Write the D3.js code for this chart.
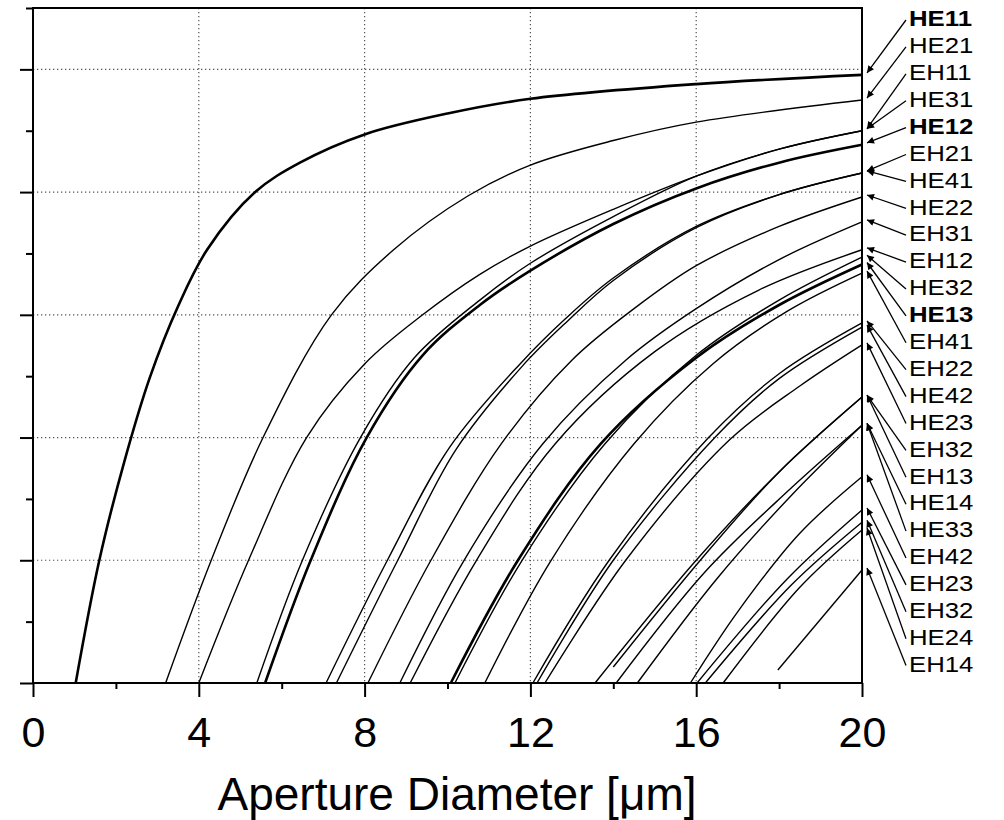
<!DOCTYPE html>
<html>
<head>
<meta charset="utf-8">
<script src="https://cdn.jsdelivr.net/npm/d3@7"></script>
<style>
  body { margin: 0; background: #fff; }
  text { font-family: "Liberation Sans", Arial, sans-serif; }
</style>
</head>
<body>
<script>
// axis ticks
const xTicks = [0, 4, 8, 12, 16, 20];
const xMinorTicks = [2, 6, 10, 14, 18];
const yTicks = [0, 1, 2, 3, 4, 5];
const yMinorTicks = [0.5, 1.5, 2.5, 3.5, 4.5, 5.5];

// mode curves, [aperture diameter, value]
const HE11 = [[1.03,0],[1.6,1],[2.2,1.8],[2.82,2.49],[3.5,3.07],[4.2,3.53],[5.36,4.0],[6.44,4.24],[8,4.47],[10,4.64],[12,4.76],[16,4.88],[20,4.955]];
const HE21 = [[3.2,0],[4.3,1],[5.55,2],[7.2,3],[8.7,3.53],[10.5,3.97],[12,4.22],[14,4.42],[16,4.57],[20,4.75]];
const EH11 = [[4.0,0],[5.2,1],[6.6,2],[8,2.6],[9.4,3],[10.78,3.33],[12,3.56],[14,3.86],[16,4.13],[18,4.35],[20,4.5]];
const HE31 = [[5.4,0],[6.5,1],[7.9,2],[9.2,2.65],[10.78,3.12],[12,3.42],[14,3.8],[16,4.13],[18,4.35],[20,4.5]];
const HE12 = [[5.6,0],[6.7,1],[8.05,2],[9.4,2.67],[10.78,3.08],[12,3.36],[14,3.74],[16,4.03],[18,4.24],[20,4.385]];
const EH21 = [[7.07,0],[8.55,1],[10.05,1.92],[11.75,2.6],[12.85,2.97],[14,3.3],[16,3.72],[18,3.98],[20,4.156]];
const HE41 = [[7.32,0],[8.8,1],[10.2,1.9],[11.8,2.58],[12.9,2.95],[14,3.28],[16,3.71],[18,3.98],[20,4.156]];
const HE22 = [[8.08,0],[9.6,1],[11.3,1.95],[13.0,2.63],[14.5,3.05],[16,3.4],[18,3.72],[20,3.96]];
const EH31 = [[8.85,0],[10.4,1],[12.3,1.95],[14.3,2.63],[16,3.05],[18,3.45],[20,3.757]];
const EH12 = [[9.1,0],[10.7,1],[12.6,1.95],[15.0,2.7],[17.5,3.2],[20,3.53]];
const HE32 = [[10.18,0],[11.8,1],[13.8,1.95],[16.0,2.67],[18,3.12],[20,3.47]];
const HE13 = [[10.08,0],[11.7,1],[13.7,1.95],[16.0,2.65],[18,3.08],[20,3.41]];
const EH41 = [[10.9,0],[12.5,1],[14.5,1.95],[16.4,2.6],[18.2,3.03],[20,3.34]];
const EH22 = [[12.06,0],[13.9,1],[16.3,2.0],[18,2.52],[20,2.934]];
const HE42 = [[12.16,0],[14.0,1],[16.45,2],[18,2.48],[20,2.9]];
const HE23 = [[12.35,0],[14.3,1],[16.8,1.98],[18.5,2.42],[20,2.755]];
const EH32 = [[13.56,0],[16.0,1.0],[18,1.72],[20,2.33]];
const EH13 = [[14.0,0.13],[16.1,1],[18,1.72],[20,2.33]];
const HE14 = [[14.07,0],[16.2,0.9],[18.2,1.56],[20,2.1]];
const HE33 = [[14.58,0],[16.5,0.85],[18.3,1.53],[20,2.1]];
const EH42 = [[15.86,0],[17,0.58],[18.5,1.22],[20,1.68]];
const EH23 = [[16.02,0],[18.2,0.85],[20,1.41]];
const EH32b = [[16.22,0],[18.3,0.8],[20,1.31]];
const HE24 = [[16.65,0],[18.5,0.78],[20,1.247]];
const EH14 = [[17.97,0.106],[20,0.921]];

// labels on the right, top to bottom
const modeLabels = ["HE11","HE21","EH11","HE31","HE12","EH21","HE41","HE22","EH31","EH12","HE32","HE13",
  "EH41","EH22","HE42","HE23","EH32","EH13","HE14","HE33","EH42","EH23","EH32","HE24","EH14"];
const modeCurves = [HE11,HE21,EH11,HE31,HE12,EH21,HE41,HE22,EH31,EH12,HE32,HE13,
  EH41,EH22,HE42,HE23,EH32,EH13,HE14,HE33,EH42,EH23,EH32b,HE24,EH14];
const boldModes = ["HE11","HE12","HE13"];

const width = 1004;
const height = 820;
const marginLeft = 33, marginRight = 142, marginTop = 8, marginBottom = 137;

const x = d3.scaleLinear().domain([0, 20]).range([marginLeft, width - marginRight]);
const y = d3.scaleLinear().domain([0, 5.5]).range([height - marginBottom, marginTop]);

const svg = d3.select("body").append("svg")
    .attr("width", width)
    .attr("height", height)
    .attr("viewBox", [0, 0, width, height]);

// dotted grid
svg.append("g")
    .selectAll("line")
    .data(xTicks.slice(1, -1))
    .join("line")
    .attr("x1", d => x(d)).attr("x2", d => x(d))
    .attr("y1", y(5.5)).attr("y2", y(0))
    .attr("stroke", "#555").attr("stroke-width", 1.2)
    .attr("stroke-dasharray", "1.3,2.7");

svg.append("g")
    .selectAll("line")
    .data(yTicks.slice(1))
    .join("line")
    .attr("x1", x(0)).attr("x2", x(20))
    .attr("y1", d => y(d)).attr("y2", d => y(d))
    .attr("stroke", "#555").attr("stroke-width", 1.2)
    .attr("stroke-dasharray", "1.3,2.7");

// curves
let line = d3.line()
    .x(d => x(d[0]))
    .y(d => y(d[1]))
    .curve(d3.curveCatmullRom.alpha(0.5));

svg.append("g")
    .selectAll("path")
    .data(modeCurves)
    .join("path")
    .attr("fill", "none")
    .attr("stroke", "#000")
    .attr("stroke-width", (d, i) => boldModes.includes(modeLabels[i]) ? 2.6 : 1.4)
    .attr("d", line);

// axes
const axisStyle = g => {
    g.select(".domain").remove();
    g.selectAll(".tick line").attr("stroke", "#000").attr("stroke-width", 2);
};

svg.append("g")
    .attr("transform", `translate(0,${y(0)})`)
    .call(d3.axisBottom(x).tickValues(xTicks).tickSize(14).tickPadding(19).tickSizeOuter(0))
    .call(axisStyle)
    .call(g => g.selectAll("text")
        .attr("fill", "#000")
        .style("font-size", "43px"));

svg.append("g")
    .attr("transform", `translate(0,${y(0)})`)
    .call(d3.axisBottom(x).tickValues(xMinorTicks).tickSize(6).tickFormat("").tickSizeOuter(0))
    .call(axisStyle);

svg.append("g")
    .attr("transform", `translate(${x(0)},0)`)
    .call(d3.axisLeft(y).tickValues(yTicks).tickSize(13).tickFormat("").tickSizeOuter(0))
    .call(axisStyle);

svg.append("g")
    .attr("transform", `translate(${x(0)},0)`)
    .call(d3.axisLeft(y).tickValues(yMinorTicks).tickSize(7).tickFormat("").tickSizeOuter(0))
    .call(axisStyle);

// frame
svg.append("rect")
    .attr("x", x(0)).attr("y", y(5.5))
    .attr("width", x(20) - x(0)).attr("height", y(0) - y(5.5))
    .attr("fill", "none").attr("stroke", "#000").attr("stroke-width", 2);

svg.append("text")
    .attr("x", 457)
    .attr("y", 810)
    .attr("text-anchor", "middle")
    .style("font-size", "46px")
    .text("Aperture Diameter [\u03bcm]");

// right-hand labels with arrows
svg.append("defs").append("marker")
    .attr("id", "tip")
    .attr("viewBox", "0 0 10 10")
    .attr("refX", 10).attr("refY", 5)
    .attr("markerWidth", 8).attr("markerHeight", 7)
    .attr("markerUnits", "userSpaceOnUse")
    .attr("orient", "auto")
    .append("path")
    .attr("d", "M0,0L10,5L0,10z")
    .attr("fill", "#000");

const labelTop = 18, labelStep = 26.9;

svg.append("g")
    .selectAll("line")
    .data(modeLabels)
    .join("line")
    .attr("x1", 906)
    .attr("y1", (d, i) => labelTop + i * labelStep + 2)
    .attr("x2", x(20) + 5)
    .attr("y2", (d, i) => y(modeCurves[i][modeCurves[i].length - 1][1]) - 2)
    .attr("stroke", "#000")
    .attr("stroke-width", 1.3)
    .attr("marker-end", "url(#tip)");

svg.append("g")
    .selectAll("text")
    .data(modeLabels)
    .join("text")
    .attr("transform", (d, i) => `translate(909,${labelTop + i * labelStep}) scale(1.12,1)`)
    .attr("dy", "0.36em")
    .style("font-size", "23px")
    .style("font-weight", d => boldModes.includes(d) ? "bold" : "normal")
    .text(d => d);
</script>
</body>
</html>
